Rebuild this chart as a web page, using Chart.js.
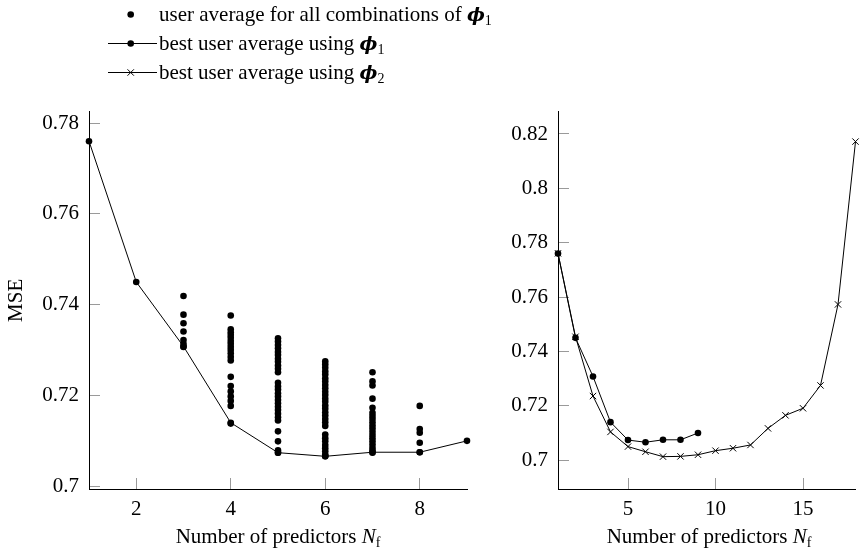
<!DOCTYPE html>
<html>
<head>
<meta charset="utf-8">
<script src="https://cdn.jsdelivr.net/npm/chart.js@4.4.1/dist/chart.umd.min.js"></script>
<style>
  html, body { margin: 0; padding: 0; background: #fff; }
  #fig { position: relative; width: 861px; height: 553px; overflow: hidden; font-family: 'Liberation Serif', serif; color: #000; }
  #leftChart { position: absolute; left: 0; top: 0; }
  #rightChart { position: absolute; left: 500px; top: 0; }
  .row { position: absolute; left: 100px; height: 29px; line-height: 29px; font-size: 21px; white-space: nowrap; }
  .row svg { vertical-align: top; }
  .phi { font-weight: bold; font-style: italic; font-family: 'DejaVu Serif', serif; font-size: 19px; }
  sub { font-size: 14px; line-height: 0; vertical-align: -4px; }
  .xtitle { position: absolute; top: 524px; font-size: 21px; line-height: 25px; white-space: nowrap; transform: translateX(-50%); }
</style>
</head>
<body>
<div id="fig">
  <canvas id="leftChart" width="500" height="553"></canvas>
  <canvas id="rightChart" width="361" height="553"></canvas>

  <div class="row" style="top:0px">
    <svg width="59" height="29"><circle cx="30.7" cy="14.5" r="3.3" fill="#000"/></svg>user average for all combinations of <span class="phi">ϕ</span><sub>1</sub>
  </div>
  <div class="row" style="top:29px">
    <svg width="59" height="29"><line x1="8" y1="14.5" x2="57" y2="14.5" stroke="#000" stroke-width="1"/><circle cx="30.7" cy="14.5" r="3.3" fill="#000"/></svg>best user average using <span class="phi">ϕ</span><sub>1</sub>
  </div>
  <div class="row" style="top:58px">
    <svg width="59" height="29"><line x1="8" y1="14.5" x2="57" y2="14.5" stroke="#000" stroke-width="1"/><path d="M27.5 11.3 L33.9 17.7 M27.5 17.7 L33.9 11.3" stroke="#000" stroke-width="1"/></svg>best user average using <span class="phi">ϕ</span><sub>2</sub>
  </div>

  <div class="xtitle" style="left:278px">Number of predictors <i>N</i><sub>f</sub></div>
  <div class="xtitle" style="left:709px">Number of predictors <i>N</i><sub>f</sub></div>
</div>

<script>
// number of predictors
const leftNf = [1, 2, 3, 4, 5, 6, 7, 8, 9];
const rightNf = [1, 2, 3, 4, 5, 6, 7, 8, 9, 10, 11, 12, 13, 14, 15, 16, 17, 18];

// best user average using phi_1 / phi_2
const bestPhi1 = [0.7760, 0.7450, 0.7308, 0.7140, 0.7074, 0.7066, 0.7075, 0.7075, 0.7100];
const bestPhi2 = [0.7761, 0.7454, 0.7236, 0.7104, 0.7050, 0.7031, 0.7013, 0.7014, 0.7020,
                  0.7035, 0.7044, 0.7056, 0.7117, 0.7165, 0.7191, 0.7275, 0.7573, 0.8172];

// user average for all combinations of phi_1 (one list per N_f)
const comboNf = [3, 4, 5, 6, 7, 8];
const combo3 = [0.7419, 0.7378, 0.7359, 0.7341, 0.7322, 0.7314, 0.7307];
const combo4 = [0.7376, 0.7346, 0.7339, 0.7333, 0.7327, 0.7320, 0.7314, 0.7307, 0.7300, 0.7293,
                0.7285, 0.7277, 0.7241, 0.7221, 0.7209, 0.7198, 0.7188, 0.7177, 0.7138];
const combo5 = [0.7326, 0.7319, 0.7311, 0.7304, 0.7296, 0.7289, 0.7281, 0.7274, 0.7266, 0.7259,
                0.7251, 0.7228, 0.7220, 0.7213, 0.7205, 0.7198, 0.7190, 0.7183, 0.7175, 0.7168,
                0.7160, 0.7152, 0.7145, 0.7121, 0.7099, 0.7079, 0.7074];
const combo6 = [0.7275, 0.7268, 0.7261, 0.7253, 0.7246, 0.7238, 0.7231, 0.7223, 0.7216, 0.7208,
                0.7201, 0.7193, 0.7186, 0.7178, 0.7171, 0.7163, 0.7156, 0.7148, 0.7141, 0.7133,
                0.7114, 0.7106, 0.7099, 0.7091, 0.7084, 0.7077, 0.7070, 0.7066];
const combo7 = [0.7251, 0.7231, 0.7222, 0.7193, 0.7173, 0.7162, 0.7155, 0.7148, 0.7141, 0.7134,
                0.7127, 0.7120, 0.7113, 0.7106, 0.7099, 0.7092, 0.7085, 0.7079, 0.7074];
const combo8 = [0.7177, 0.7126, 0.7118, 0.7096, 0.7075];
const comboMse = [combo3, combo4, combo5, combo6, combo7, combo8];

// ticks
const leftXTicks = [2, 4, 6, 8];
const leftYTicks = [0.70, 0.72, 0.74, 0.76, 0.78];
const leftYLabels = ['0.7', '0.72', '0.74', '0.76', '0.78'];
const rightXTicks = [5, 10, 15];
const rightYTicks = [0.70, 0.72, 0.74, 0.76, 0.78, 0.80, 0.82];
const rightYLabels = ['0.7', '0.72', '0.74', '0.76', '0.78', '0.8', '0.82'];

Chart.defaults.font.family = "'Liberation Serif', serif";
Chart.defaults.font.size = 21;
Chart.defaults.color = '#000';

const tickGray = '#9a9a9a';

function xScale(min, max, ticks) {
  return {
    type: 'linear', min: min, max: max,
    afterBuildTicks: s => { s.ticks = ticks.map(v => ({ value: v })); },
    afterFit: s => { s.height = 64; },
    grid: { drawOnChartArea: false, tickLength: -11, color: tickGray, tickColor: tickGray, lineWidth: 1 },
    border: { display: true, color: '#000', width: 1 },
    ticks: { padding: 19, maxRotation: 0, autoSkip: false, callback: v => String(v) }
  };
}

function yScale(min, max, ticks, labels, width, title) {
  return {
    type: 'linear', min: min, max: max,
    afterBuildTicks: s => { s.ticks = ticks.map(v => ({ value: v })); },
    afterFit: s => { s.width = width; },
    grid: { drawOnChartArea: false, tickLength: -11, color: tickGray, tickColor: tickGray, lineWidth: 1 },
    border: { display: true, color: '#000', width: 1 },
    ticks: { padding: 21, autoSkip: false, callback: (v, i) => labels[i] },
    title: { display: !!title, text: title || '', font: { size: 21 }, padding: { top: 4, bottom: 0 } }
  };
}

const comboPoints = [];
comboNf.forEach((n, i) => comboMse[i].forEach(v => comboPoints.push({ x: n, y: v })));

const leftChart = new Chart(document.getElementById('leftChart'), {
  type: 'line',
  data: {
    datasets: [
      {
        label: 'user average for all combinations',
        data: comboPoints,
        showLine: false,
        pointRadius: 3.3,
        pointBackgroundColor: '#000',
        pointBorderWidth: 0,
        clip: false,
      },
      {
        label: 'best user average using phi1',
        data: leftNf.map((n, i) => ({ x: n, y: bestPhi1[i] })),
        borderColor: '#000',
        borderWidth: 1,
        pointRadius: 3.3,
        pointBackgroundColor: '#000',
        pointBorderWidth: 0,
        tension: 0,
        clip: false,
      }
    ]
  },
  options: {
    responsive: false,
    animation: false,
    events: [],
    layout: { padding: { top: 111.7, right: 33, bottom: 0, left: 0 } },
    scales: {
      x: xScale(1, 9, leftXTicks),
      y: yScale(0.6994, 0.7825, leftYTicks, leftYLabels, 89, 'MSE')
    },
    plugins: { legend: { display: false }, tooltip: { enabled: false } }
  }
});

const rightChart = new Chart(document.getElementById('rightChart'), {
  type: 'line',
  data: {
    datasets: [
      {
        label: 'best user average using phi1',
        data: leftNf.map((n, i) => ({ x: n, y: bestPhi1[i] })),
        borderColor: '#000',
        borderWidth: 1,
        pointRadius: 3.3,
        pointBackgroundColor: '#000',
        pointBorderWidth: 0,
        tension: 0,
        clip: false,
      },
      {
        label: 'best user average using phi2',
        data: rightNf.map((n, i) => ({ x: n, y: bestPhi2[i] })),
        borderColor: '#000',
        borderWidth: 1,
        pointStyle: 'crossRot',
        pointRadius: 4.5,
        pointBorderColor: '#000',
        pointBorderWidth: 1,
        tension: 0,
        clip: false,
      }
    ]
  },
  options: {
    responsive: false,
    animation: false,
    events: [],
    layout: { padding: { top: 111.7, right: 0.5, bottom: 0, left: 0 } },
    scales: {
      x: xScale(1, 18, rightXTicks),
      y: yScale(0.6894, 0.8282, rightYTicks, rightYLabels, 58)
    },
    plugins: { legend: { display: false }, tooltip: { enabled: false } }
  }
});
</script>
</body>
</html>
